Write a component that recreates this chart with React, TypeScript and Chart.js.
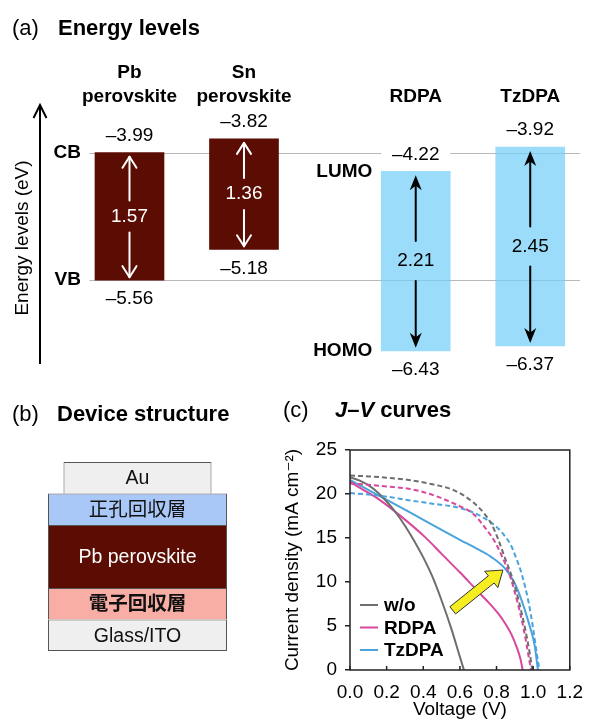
import React, { useEffect, useRef } from "react";
import { Chart, registerables } from "chart.js";

Chart.register(...registerables);

const FONT = '"Liberation Sans", "Noto Sans CJK JP", "DejaVu Sans", sans-serif';

// ---------- (a) Energy levels ----------
const materialNames: string[][] = [["Pb", "perovskite"], ["Sn", "perovskite"], ["RDPA"], ["TzDPA"]];
const materialPositions = [1, 2, 3.5, 4.5];
const upperLevels = [-3.99, -3.82, -4.22, -3.92];
const lowerLevels = [-5.56, -5.18, -6.43, -6.37];
const upperLevelNames = ["CB", "", "LUMO", ""];
const lowerLevelNames = ["VB", "", "HOMO", ""];

// ---------- (b) Device structure ----------
const layerNames = ["Glass/ITO", "電子回収層", "Pb perovskite", "正孔回収層", "Au"];
const layerBottoms = [0, 1, 2, 4, 5];
const layerTops = [1, 2, 4, 5, 6];

// ---------- (c) J–V curves ----------
const seriesNames = ["w/o", "RDPA", "TzDPA"];
const woSolidV = [0, 0.05, 0.1, 0.15, 0.2, 0.25, 0.3, 0.35, 0.4, 0.45, 0.5, 0.55, 0.6, 0.622];
const woSolidJ = [21.9, 21.55, 21.0, 20.2, 19.15, 17.9, 16.4, 14.7, 12.8, 10.6, 7.9, 4.9, 1.5, 0];
const rdpaSolidV = [0, 0.07, 0.15, 0.27, 0.41, 0.5, 0.6, 0.7, 0.76, 0.81, 0.85, 0.88, 0.91, 0.93, 0.943];
const rdpaSolidJ = [21.4, 20.5, 19.5, 17.6, 15.1, 13.2, 11.1, 8.9, 7.6, 6.4, 5.2, 4.1, 2.6, 1.3, 0];
const tzdpaSolidV = [0, 0.07, 0.15, 0.32, 0.45, 0.6, 0.7, 0.774, 0.843, 0.896, 0.939, 0.974, 1.008, 1.026];
const tzdpaSolidJ = [21.6, 20.8, 19.9, 18.0, 16.5, 14.8, 13.7, 12.8, 11.6, 10.0, 7.8, 5.5, 2.8, 0];
const woDashV = [0, 0.1, 0.2, 0.32, 0.45, 0.565, 0.67, 0.74, 0.775, 0.81, 0.843, 0.887, 0.922, 0.956, 0.983, 0.995];
const woDashJ = [22.1, 22.0, 21.85, 21.6, 21.1, 20.45, 19.1, 17.6, 16.5, 14.8, 12.9, 10.4, 7.8, 4.7, 1.7, 0];
const rdpaDashV = [0, 0.1, 0.2, 0.32, 0.45, 0.6, 0.67, 0.74, 0.79, 0.826, 0.878, 0.913, 0.948, 0.974, 0.988];
const rdpaDashJ = [21.2, 21.05, 20.85, 20.6, 19.9, 18.6, 17.8, 16.1, 14.6, 13.1, 10.4, 7.8, 4.7, 1.7, 0];
const tzdpaDashV = [0, 0.1, 0.2, 0.32, 0.45, 0.6, 0.704, 0.774, 0.826, 0.878, 0.904, 0.939, 0.974, 1.0, 1.021, 1.035];
const tzdpaDashJ = [20.1, 19.95, 19.7, 19.3, 18.9, 18.4, 17.6, 16.7, 15.7, 14.2, 12.9, 10.8, 7.8, 4.7, 1.7, 0];
const improvementArrow = { fromV: 0.561, fromJ: 6.78, toV: 0.835, toJ: 11.36 };

// ---------- styles ----------
const MATERIAL_STYLE = [
  { fill: "#5b0d03", arrow: "#ffffff", filled: false },
  { fill: "#5b0d03", arrow: "#ffffff", filled: false },
  { fill: "rgba(112,205,248,0.7)", arrow: "#000000", filled: true },
  { fill: "rgba(112,205,248,0.7)", arrow: "#000000", filled: true },
];
const LAYER_STYLE = [
  { fill: "#efefef", text: "#111", bold: false, width: 179 },
  { fill: "#f8ada5", text: "#111", bold: true, width: 179 },
  { fill: "#5b0d03", text: "#ffffff", bold: false, width: 179 },
  { fill: "#a9c8f8", text: "#111", bold: false, width: 179 },
  { fill: "#efefef", text: "#111", bold: false, width: 148 },
];
const SERIES_COLORS = ["#6e6e6e", "#d8479c", "#4aa3dc"];

const fmt = (v: number) => v.toFixed(2).replace("-", "–");

function vArrow(ctx: CanvasRenderingContext2D, x: number, y0: number, y1: number, color: string, filled: boolean) {
  const dir = Math.sign(y1 - y0);
  ctx.strokeStyle = color;
  ctx.fillStyle = color;
  ctx.lineWidth = 2;
  if (filled) {
    const hl = 15, hw = 6;
    ctx.beginPath();
    ctx.moveTo(x, y0);
    ctx.lineTo(x, y1 - dir * hl * 0.7);
    ctx.stroke();
    ctx.beginPath();
    ctx.moveTo(x, y1);
    ctx.lineTo(x - hw, y1 - dir * hl);
    ctx.lineTo(x, y1 - dir * hl * 0.7);
    ctx.lineTo(x + hw, y1 - dir * hl);
    ctx.closePath();
    ctx.fill();
  } else {
    const hl = 11, hw = 7;
    ctx.lineCap = "round";
    ctx.lineJoin = "round";
    ctx.beginPath();
    ctx.moveTo(x, y0);
    ctx.lineTo(x, y1);
    ctx.stroke();
    ctx.beginPath();
    ctx.moveTo(x - hw, y1 - dir * hl);
    ctx.lineTo(x, y1);
    ctx.lineTo(x + hw, y1 - dir * hl);
    ctx.stroke();
  }
}

function panelTitle(ctx: CanvasRenderingContext2D, letter: string, x: number, y: number, parts: { t: string; italic?: boolean }[], tx: number) {
  ctx.save();
  ctx.fillStyle = "#000";
  ctx.textBaseline = "middle";
  ctx.textAlign = "left";
  ctx.font = `22px ${FONT}`;
  ctx.fillText(letter, x, y);
  let cx = tx;
  for (const p of parts) {
    ctx.font = `${p.italic ? "italic " : ""}bold 22px ${FONT}`;
    ctx.fillText(p.t, cx, y);
    cx += ctx.measureText(p.t).width;
  }
  ctx.restore();
}

// ---------- plugins ----------
const energyPlugin = {
  id: "energy",
  beforeDatasetsDraw(chart: any) {
    const { ctx, chartArea, scales } = chart;
    const x0 = scales.x.getPixelForValue(materialPositions[0]) - 40;
    const x1 = chartArea.right - 14;
    ctx.save();
    ctx.strokeStyle = "#b8b8b8";
    ctx.lineWidth = 1;
    [upperLevels[0], lowerLevels[0]].forEach((v) => {
      const py = Math.round(scales.y.getPixelForValue(v)) + 0.5;
      ctx.beginPath();
      ctx.moveTo(x0, py);
      ctx.lineTo(x1, py);
      ctx.stroke();
    });
    ctx.restore();
  },
  afterDatasetsDraw(chart: any) {
    const { ctx } = chart;
    const meta = chart.getDatasetMeta(0);
    ctx.save();
    meta.data.forEach((bar: any, i: number) => {
      const { x, y, base, width } = bar.getProps(["x", "y", "base", "width"], true);
      const top = Math.min(y, base);
      const bottom = Math.max(y, base);
      const mid = (top + bottom) / 2;
      const st = MATERIAL_STYLE[i];
      const half = st.filled ? 20 : 16;
      vArrow(ctx, x, mid - half, top + 4, st.arrow, st.filled);
      vArrow(ctx, x, mid + half, bottom - 3, st.arrow, st.filled);
      ctx.font = `19px ${FONT}`;
      ctx.textAlign = "center";
      ctx.textBaseline = "middle";
      ctx.fillStyle = st.arrow;
      ctx.fillText((upperLevels[i] - lowerLevels[i]).toFixed(2), x, mid);
      // values
      const yu = top - 17;
      const yl = bottom + 19;
      ctx.fillStyle = "#fff";
      ctx.fillRect(x - width / 2, yu - 9, width, 18);
      ctx.fillRect(x - width / 2, yl - 9, width, 18);
      ctx.fillStyle = "#000";
      ctx.fillText(fmt(upperLevels[i]), x, yu);
      ctx.fillText(fmt(lowerLevels[i]), x, yl);
      // level names
      ctx.font = `bold 19px ${FONT}`;
      ctx.textAlign = "right";
      const gap = i === 0 ? 14 : 9;
      if (upperLevelNames[i]) ctx.fillText(upperLevelNames[i], x - width / 2 - gap, top);
      if (lowerLevelNames[i]) ctx.fillText(lowerLevelNames[i], x - width / 2 - gap, bottom);
      // material names
      ctx.textAlign = "center";
      const names = materialNames[i];
      names.forEach((n, k) => {
        ctx.fillText(n, x, 97 - (names.length - 1 - k) * 24);
      });
    });
    // energy axis arrow
    ctx.strokeStyle = "#000";
    ctx.lineWidth = 2;
    ctx.lineCap = "butt";
    ctx.beginPath();
    ctx.moveTo(40, 364);
    ctx.lineTo(40, 106);
    ctx.stroke();
    ctx.lineJoin = "miter";
    ctx.beginPath();
    ctx.moveTo(33.5, 118);
    ctx.lineTo(40, 105);
    ctx.lineTo(46.5, 118);
    ctx.stroke();
    ctx.save();
    ctx.translate(23, 238);
    ctx.rotate(-Math.PI / 2);
    ctx.font = `19px ${FONT}`;
    ctx.textAlign = "center";
    ctx.textBaseline = "middle";
    ctx.fillStyle = "#000";
    ctx.fillText("Energy levels (eV)", 0, 0);
    ctx.restore();
    ctx.restore();
    panelTitle(ctx, "(a)", 12, 29, [{ t: "Energy levels" }], 58);
  },
};

const layerPlugin = {
  id: "layers",
  afterDatasetsDraw(chart: any) {
    const { ctx } = chart;
    ctx.save();
    ctx.textAlign = "center";
    ctx.textBaseline = "middle";
    chart.data.datasets.forEach((_: any, i: number) => {
      const bar = chart.getDatasetMeta(i).data[0];
      const { x, y, base } = bar.getProps(["x", "y", "base"], true);
      const st = LAYER_STYLE[i];
      ctx.font = `${st.bold ? "bold " : ""}19.5px ${FONT}`;
      ctx.fillStyle = st.text;
      ctx.fillText(layerNames[i], x, (y + base) / 2 + 1);
    });
    ctx.restore();
    panelTitle(ctx, "(b)", 12, 25, [{ t: "Device structure" }], 57);
  },
};

const jvPlugin = {
  id: "jv",
  afterDatasetsDraw(chart: any) {
    const { ctx, chartArea: ca, scales } = chart;
    const xs = scales.x, ys = scales.y;
    ctx.save();
    // yellow arrow
    const tx = xs.getPixelForValue(improvementArrow.fromV), ty = ys.getPixelForValue(improvementArrow.fromJ);
    const hx = xs.getPixelForValue(improvementArrow.toV), hy = ys.getPixelForValue(improvementArrow.toJ);
    const len = Math.hypot(hx - tx, hy - ty);
    const ux = (hx - tx) / len, uy = (hy - ty) / len;
    const nx = -uy, ny = ux;
    const sw = 4.6, hw = 10.5, hl = 15;
    const bx = hx - ux * hl, by = hy - uy * hl;
    ctx.beginPath();
    ctx.moveTo(tx + nx * sw, ty + ny * sw);
    ctx.lineTo(bx + nx * sw, by + ny * sw);
    ctx.lineTo(bx + nx * hw, by + ny * hw);
    ctx.lineTo(hx, hy);
    ctx.lineTo(bx - nx * hw, by - ny * hw);
    ctx.lineTo(bx - nx * sw, by - ny * sw);
    ctx.lineTo(tx - nx * sw, ty - ny * sw);
    ctx.closePath();
    ctx.fillStyle = "#f7ee22";
    ctx.fill();
    ctx.strokeStyle = "#333";
    ctx.lineWidth = 1;
    ctx.lineJoin = "miter";
    ctx.stroke();
    // frame
    ctx.strokeStyle = "#222";
    ctx.lineWidth = 1.5;
    ctx.strokeRect(ca.left, ca.top, ca.right - ca.left, ca.bottom - ca.top);
    // inward x ticks
    xs.ticks.forEach((t: any) => {
      const px = xs.getPixelForValue(t.value);
      ctx.beginPath();
      ctx.moveTo(px, ca.bottom);
      ctx.lineTo(px, ca.bottom - 4);
      ctx.stroke();
    });
    // legend
    ctx.font = `bold 19px ${FONT}`;
    ctx.textAlign = "left";
    ctx.textBaseline = "middle";
    seriesNames.forEach((n, i) => {
      const ly = ca.bottom - 65 + i * 22.5;
      ctx.strokeStyle = SERIES_COLORS[i];
      ctx.lineWidth = 2;
      ctx.beginPath();
      ctx.moveTo(ca.left + 10, ly);
      ctx.lineTo(ca.left + 28, ly);
      ctx.stroke();
      ctx.fillStyle = "#000";
      ctx.fillText(n, ca.left + 34, ly + 1);
    });
    ctx.restore();
    panelTitle(ctx, "(c)", 13, 21, [{ t: "J", italic: true }, { t: "–" }, { t: "V", italic: true }, { t: " curves" }], 65);
  },
};

// ---------- chart builders ----------
function makeEnergy(canvas: HTMLCanvasElement) {
  return new Chart(canvas, {
    type: "bar",
    data: {
      datasets: [
        {
          data: materialPositions.map((x, i) => ({ x, y: [lowerLevels[i], upperLevels[i]] })) as any,
          backgroundColor: MATERIAL_STYLE.map((s) => s.fill),
          borderWidth: 0,
          barThickness: 69,
        },
      ],
    },
    options: {
      responsive: false,
      animation: false,
      layout: { padding: 0 },
      plugins: { legend: { display: false }, tooltip: { enabled: false } },
      scales: {
        x: { type: "linear", min: -0.131, max: 5.057, display: false, offset: false },
        y: { type: "linear", min: -6.9126, max: -2.1096, display: false },
      },
    },
    plugins: [energyPlugin],
  });
}

function makeDevice(canvas: HTMLCanvasElement) {
  return new Chart(canvas, {
    type: "bar",
    data: {
      labels: ["device"],
      datasets: layerNames.map((name, i) => ({
        label: name,
        data: [[layerBottoms[i], layerTops[i]]] as any,
        backgroundColor: LAYER_STYLE[i].fill,
        borderColor: "#555",
        borderWidth: { top: 1, left: 1, right: 1, bottom: i === 0 ? 1 : 0 },
        borderSkipped: false,
        barThickness: LAYER_STYLE[i].width,
        grouped: false,
        inflateAmount: 0,
      })),
    },
    options: {
      responsive: false,
      animation: false,
      layout: { padding: { top: 72, bottom: 69, left: 0, right: 5 } },
      plugins: { legend: { display: false }, tooltip: { enabled: false } },
      scales: {
        x: { display: false },
        y: { display: false, min: 0, max: 6 },
      },
    },
    plugins: [layerPlugin],
  });
}

function makeJV(canvas: HTMLCanvasElement) {
  const pts = (v: number[], j: number[]) => v.map((x, i) => ({ x, y: j[i] }));
  const line = (label: string, v: number[], j: number[], color: string, dashed: boolean) => ({
    label,
    data: pts(v, j),
    borderColor: color,
    borderWidth: 2,
    borderDash: dashed ? [5, 3] : [],
    pointRadius: 0,
    fill: false,
    cubicInterpolationMode: "monotone" as const,
  });
  return new Chart(canvas, {
    type: "line",
    data: {
      datasets: [
        line(seriesNames[0], woDashV, woDashJ, SERIES_COLORS[0], true),
        line(seriesNames[1], rdpaDashV, rdpaDashJ, SERIES_COLORS[1], true),
        line(seriesNames[2], tzdpaDashV, tzdpaDashJ, SERIES_COLORS[2], true),
        line(seriesNames[0], woSolidV, woSolidJ, SERIES_COLORS[0], false),
        line(seriesNames[1], rdpaSolidV, rdpaSolidJ, SERIES_COLORS[1], false),
        line(seriesNames[2], tzdpaSolidV, tzdpaSolidJ, SERIES_COLORS[2], false),
      ] as any,
    },
    options: {
      responsive: false,
      animation: false,
      layout: { padding: { top: 60, right: 14, left: 0, bottom: 0 } },
      plugins: { legend: { display: false }, tooltip: { enabled: false } },
      scales: {
        x: {
          type: "linear",
          min: 0,
          max: 1.2,
          afterFit: (s: any) => { s.height = 50; },
          ticks: { stepSize: 0.2, callback: (v: any) => Number(v).toFixed(1), font: { size: 19, family: FONT }, color: "#000", padding: 11, maxRotation: 0 },
          grid: { display: true, drawOnChartArea: false, drawTicks: false },
          border: { display: false },
          title: { display: true, text: "Voltage (V)", font: { size: 19, family: FONT, lineHeight: 1 }, color: "#000", padding: { top: 0, bottom: 0.5 } },
        },
        y: {
          type: "linear",
          min: 0,
          max: 25,
          afterFit: (s: any) => { s.width = 80; },
          ticks: { stepSize: 5, font: { size: 19, family: FONT }, color: "#000", padding: 8 },
          grid: { display: true, drawOnChartArea: false, drawTicks: true, tickLength: 5, color: "#222", lineWidth: 1.5 },
          border: { display: false },
          title: { display: true, text: "Current density (mA cm⁻²)", font: { size: 19, family: FONT }, color: "#000", padding: { top: 11.6, bottom: 0 } },
        },
      },
    },
    plugins: [jvPlugin],
  });
}

export default function App() {
  const aRef = useRef<HTMLCanvasElement>(null);
  const bRef = useRef<HTMLCanvasElement>(null);
  const cRef = useRef<HTMLCanvasElement>(null);
  useEffect(() => {
    Chart.defaults.font.family = FONT;
    const charts = [makeEnergy(aRef.current!), makeDevice(bRef.current!), makeJV(cRef.current!)];
    return () => charts.forEach((c) => c.destroy());
  }, []);
  return (
    <div style={{ position: "absolute", left: 0, top: 0, width: 594, height: 720, background: "#fff", overflow: "hidden" }}>
      <canvas ref={aRef} width={594} height={390} style={{ position: "absolute", left: 0, top: 0 }} />
      <canvas ref={bRef} width={280} height={330} style={{ position: "absolute", left: 0, top: 390 }} />
      <canvas ref={cRef} width={324} height={330} style={{ position: "absolute", left: 270, top: 390 }} />
    </div>
  );
}
